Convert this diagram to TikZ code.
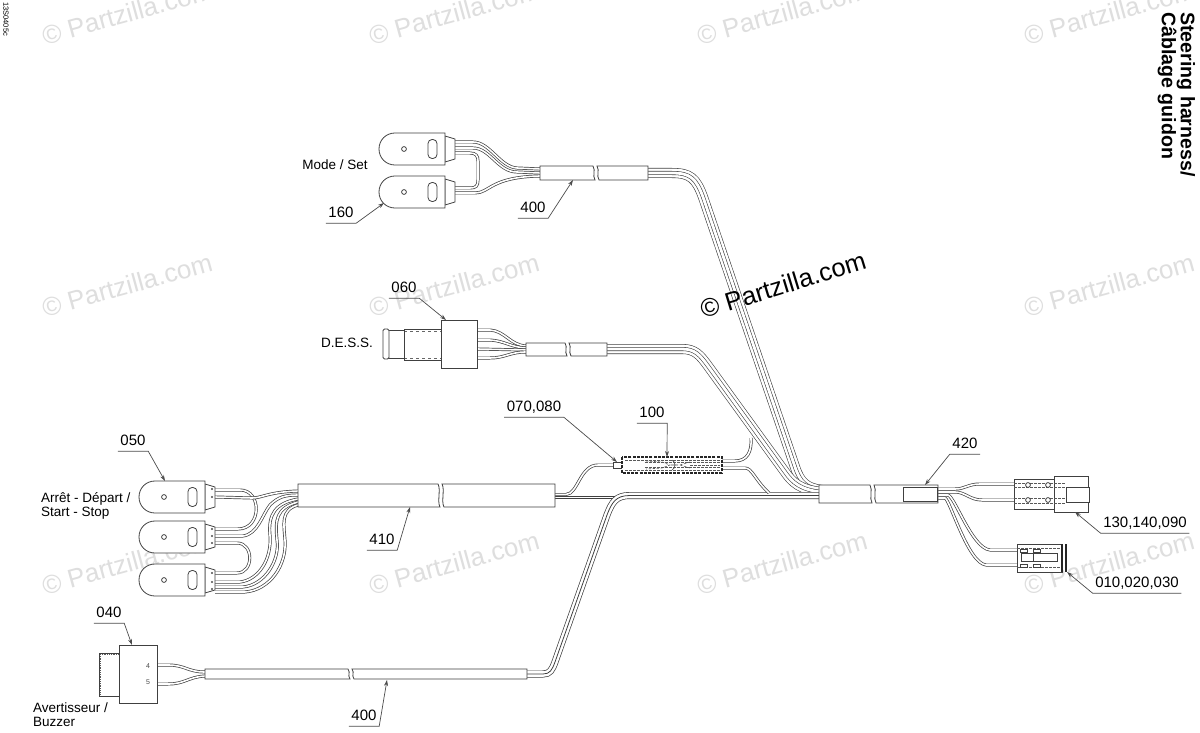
\documentclass[tikz,border=0pt]{standalone}
\usepackage{fontspec}
\setmainfont{Liberation Sans}
\usetikzlibrary{arrows.meta}

\newcommand{\brksleeve}[5]{%
\filldraw[sleeve] (#1,#4) -- (#2-2,#4) .. controls (#2+1,#4+5) and (#2-3,#5-5) .. (#2,#5) -- (#1,#5) -- cycle;
\filldraw[sleeve] (#3,#4) -- (#2+2,#4) .. controls (#2+5,#4+5) and (#2+1,#5-5) .. (#2+4,#5) -- (#3,#5) -- cycle;}

\tikzset{
  part/.style={draw=black!75,fill=white,line width=.8pt},
  sleeve/.style={draw=black!75,fill=white,line width=.8pt},
  hidden/.style={draw=black!65,line width=.6pt,dash pattern=on 2.5pt off 1.5pt},
  wiretwo/.style={draw=black!75,line width=.7pt,double=white,double distance=1.6pt},
  wirethree/.style={preaction={draw=black!75,line width=7pt},preaction={draw=white,line width=5.6pt},
    draw=black!75,line width=.8pt},
  wirefour/.style={preaction={draw=black!75,line width=10pt},preaction={draw=white,line width=8.8pt},
    preaction={draw=black!75,line width=4pt},preaction={draw=white,line width=2.8pt},draw=none},
  partno/.style={font=\fontsize{15}{15}\selectfont,inner xsep=2.5pt,inner ysep=0pt,text height=12pt,text depth=6pt},
  callout/.style={font=\fontsize{13.5}{14}\selectfont,inner sep=0pt,align=left},
  leader/.style={draw=black!70,line width=.7pt,-{Stealth[length=6pt,width=4pt]}},
  wmark/.style={font=\fontsize{26}{26}\selectfont,text=black!13,rotate=15.4,inner sep=0pt},
  paddle/.pic={
    \filldraw[part] (66,-13) -- (76,-10) -- (76,10) -- (66,13) -- cycle;
    \filldraw[part] (66,-16) -- (16,-16) .. controls (7,-16) and (0,-9) .. (0,0)
      .. controls (0,9) and (7,16) .. (16,16) -- (66,16) -- cycle;
    \draw[part] (25,0) circle (2.4);
    \draw[part,rounded corners=4pt] (49,-9.5) rectangle (58,9.5);
  }
}

\begin{document}
\begin{tikzpicture}[x=1pt,y=-1pt]
\useasboundingbox[fill=white] (0,0) rectangle (1200,733);

\foreach \wx/\wy in {127/13,454/13,782/13,1109/13,127/285,454/285,1109/285,127/563,454/563,782/563,1109/563}
  \node[wmark] at (\wx,\wy) {© Partzilla.com};

% wires
\draw[wirefour] (648,173) -- (672,173) .. controls (690,173) and (696,178) .. (703,197) -- (795,467) .. controls (800,482) and (806,488) .. (822,490);
\draw[wirefour] (607,349) -- (682,349) .. controls (695,349) and (700,355) .. (708,366) -- (785,472) .. controls (792,482) and (800,490) .. (822,492);
\draw[wiretwo] (555,497.3) -- (640,497.3);
\draw[wiretwo] (555,494.5) -- (566,494.5) .. controls (578,494) and (580,465) .. (598,465) -- (614,465);
\draw[wirethree] (527,674) -- (543,674) .. controls (550,674) and (552,670) .. (555,662) -- (607,515) .. controls (612,502) and (616,495.5) .. (630,495.5) -- (822,495.5);
\draw[wiretwo] (722,461) -- (735,461) .. controls (747,461) and (752,452) .. (751,438);
\draw[wiretwo] (722,468) -- (745,468) .. controls (752,468) and (755,480) .. (769,493);

\draw[wiretwo] (455,142) -- (473,142) .. controls (490,142) and (500,167) .. (517,168) -- (540,169);
\draw[wiretwo] (455,148) -- (473,148) .. controls (490,148) and (498,172) .. (517,172) -- (540,173);
\draw[wiretwo] (455,153) -- (470,153) .. controls (476,153) and (478,156) .. (478,161) -- (478,180) .. controls (478,186) and (476,188) .. (470,188) -- (455,188);
\draw[wiretwo] (455,193) -- (475,193) .. controls (490,193) and (490,177) .. (540,176);

\draw[wiretwo] (477,330) -- (490,330) .. controls (505,331) and (510,345) .. (526,346);
\draw[wiretwo] (477,340) -- (490,340) .. controls (505,341) and (510,347) .. (526,348);
\draw[wiretwo] (477,349) -- (526,350);
\draw[wiretwo] (477,358) -- (490,358) .. controls (505,358) and (510,352) .. (526,352);

\draw[wiretwo] (215,490) -- (240,490) .. controls (262,490) and (262,529) .. (238,529) -- (215,529);
\draw[wiretwo] (215,497) -- (252,498) .. controls (262,498) and (268,492) .. (298,491);
\draw[wiretwo] (215,536) -- (243,536) .. controls (258,534) and (262,515) .. (270,505) .. controls (278,497) and (285,495) .. (298,495);
\draw[wiretwo] (215,543) -- (237,543) .. controls (254,543) and (254,573) .. (237,573) -- (215,573);
\draw[wiretwo] (215,582) -- (240,582) .. controls (258,580) and (272,560) .. (270,535) .. controls (268,515) and (275,503) .. (298,499);
\draw[wiretwo] (215,587) -- (243,587) .. controls (265,585) and (280,560) .. (277,540) .. controls (275,520) and (276,508) .. (298,502);
\draw[wiretwo] (215,592) -- (245,592) .. controls (270,590) and (287,565) .. (285,540) .. controls (284,525) and (280,510) .. (298,505);

\draw[wiretwo] (157,665) -- (168,665) .. controls (185,665) and (188,672) .. (205,672);
\draw[wiretwo] (157,684) -- (168,684) .. controls (185,684) and (188,677) .. (205,676);

\draw[wiretwo] (938,489) -- (955,489) .. controls (965,489) and (968,484) .. (980,484) -- (1014,484);
\draw[wiretwo] (938,492) -- (955,492) .. controls (965,492) and (970,500) .. (982,500) -- (1014,500);
\draw[wiretwo] (938,495) -- (948,495) .. controls (955,497) and (972,548) .. (990,550) -- (1017,550);
\draw[wiretwo] (938,498) -- (945,498) .. controls (950,500) and (968,563) .. (986,565) -- (1017,565);

% sleeves
\brksleeve{540}{595}{648}{166}{180}
\brksleeve{526}{567}{607}{343}{356}
\brksleeve{298}{440}{555}{484}{507}
\brksleeve{819}{872}{938}{485}{503}
\brksleeve{205}{350}{527}{669}{679}
\draw[part] (903,487) rectangle (937,501);

% mode / set
\pic at (379,149) {paddle};
\pic at (379,192) {paddle};
\node[callout] (modeset) at (335,165) {Mode / Set};

% d.e.s.s.
\filldraw[part] (404,329) rectangle (441,360);
\draw[black!60,dashed,line width=.5pt] (404,331) -- (441,331) (404,358) -- (441,358);
\filldraw[part] (388,330) -- (404,330) -- (404,358) -- (388,358) -- cycle;
\filldraw[part,rounded corners=1.5pt] (383,329) rectangle (389,359);
\filldraw[part] (441,320) rectangle (477,368);
\node[callout] (dess) at (347,343) {D.E.S.S.};

% start / stop
\pic at (139,497) {paddle};
\pic at (139,537) {paddle};
\pic at (139,580) {paddle};
\foreach \py in {489,497,529,536,543,573,582,589}
  \fill[black!70] (212,\py) circle (1.2);
\node[callout,anchor=west] (arret) at (41,499) {Arrêt - Départ /};
\node[callout,anchor=west] (start) at (41,513) {Start - Stop};

% splice
\filldraw[part] (613,462) rectangle (622,468);
\filldraw[draw=black!85,fill=white,line width=1.2pt,dash pattern=on 3pt off 1.2pt] (622,457) rectangle (722,473);
\draw[hidden,line width=.9pt] (625,460) -- (720,460) (625,470) -- (720,470) (645,462.5) -- (720,462.5) (645,467.5) -- (720,467.5) (690,465) -- (720,465);
\draw[hidden] (646,461) -- (662,462) -- (670,465) -- (662,468) -- (646,469);
\draw[black!70,line width=.6pt] (671,465) -- (678,465) (672,460) .. controls (676,462) and (676,468) .. (672,470);
\draw[hidden] (680,465) -- (690,462) (680,465) -- (690,468);

% right connectors
\filldraw[part] (1014,479) rectangle (1054,509);
\filldraw[part] (1054,476) rectangle (1088,512);
\filldraw[part] (1066,487) rectangle (1089,502);
\draw[hidden] (1014,483) -- (1066,483) (1014,487) -- (1066,487) (1014,498) -- (1066,498) (1014,503) -- (1066,503);
\draw[part] (1028,485) circle (2.4) (1048,485) circle (2.4) (1028,500) circle (2.4) (1048,500) circle (2.4);

\filldraw[part] (1017,544) rectangle (1062,572);
\draw[black!85,line width=1.3pt] (1062,544) -- (1062,572) (1066,544) -- (1066,572);
\draw[hidden] (1017,548) -- (1061,548) (1017,567) -- (1061,567);
\draw[part] (1021,553) rectangle (1033,561) (1033,553) rectangle (1057,561);
\draw[part] (1020,549) rectangle (1027,552) (1033,549) rectangle (1040,552) (1020,564) rectangle (1027,567) (1033,564) rectangle (1040,567);

% buzzer
\filldraw[part] (99,653) rectangle (119,696);
\draw[hidden,line width=.8pt,dash pattern=on 1pt off .8pt] (100.5,654) -- (100.5,695) (100,654.5) -- (119,654.5);
\filldraw[part] (119,645) rectangle (157,703);
\node[inner sep=0pt,font=\fontsize{7}{7}\selectfont,text=black!70] (pin4) at (148,666) {4};
\node[inner sep=0pt,font=\fontsize{7}{7}\selectfont,text=black!70] (pin5) at (148,682) {5};
\node[callout,anchor=west] (buzz) at (33,708) {Avertisseur /};
\node[callout,anchor=west] (buzzb) at (33,722) {Buzzer};

% part numbers
\node[partno] (p160) at (341,214) {160};
\node[partno] (p400a) at (533,209) {400};
\node[partno] (p060) at (404,289) {060};
\node[partno] (p050) at (133,442) {050};
\node[partno] (p070) at (534,408) {070,080};
\node[partno] (p100) at (652,414) {100};
\node[partno] (p420) at (965,445) {420};
\node[partno] (p130) at (1145,524) {130,140,090};
\node[partno] (p010) at (1137,584) {010,020,030};
\node[partno] (p410) at (382,541) {410};
\node[partno] (p040) at (109,614) {040};
\node[partno] (p400b) at (364,717) {400};

\coordinate (e160) at (384,203);
\coordinate (e400a) at (573,180);
\coordinate (e060) at (446,320);
\coordinate (e050) at (165,481);
\coordinate (e070) at (617,462);
\coordinate (e100) at (667,457);
\coordinate (e420) at (925,485);
\coordinate (e130) at (1075,512);
\coordinate (e010) at (1067,572);
\coordinate (e410) at (410,507);
\coordinate (e040) at (132,645);
\coordinate (e400b) at (387,680);

\draw[leader] (p160.south west) -- (p160.south east) -- (e160);
\draw[leader] (p400a.south west) -- (p400a.south east) -- (e400a);
\draw[leader] (p060.south west) -- (p060.south east) -- (e060);
\draw[leader] (p050.south west) -- (p050.south east) -- (e050);
\draw[leader] (p070.south west) -- (p070.south east) -- (e070);
\draw[leader] (p100.south west) -- (p100.south east) -- (e100);
\draw[leader] (p420.south east) -- (p420.south west) -- (e420);
\draw[leader] (p130.south east) -- (p130.south west) -- (e130);
\draw[leader] (p010.south east) -- (p010.south west) -- (e010);
\draw[leader] (p410.south west) -- (p410.south east) -- (e410);
\draw[leader] (p040.south west) -- (p040.south east) -- (e040);
\draw[leader] (p400b.south west) -- (p400b.south east) -- (e400b);

% texts
\node[font=\fontsize{19.6}{20}\selectfont\bfseries,rotate=-90,anchor=west,inner sep=0pt] (title) at (1186,12) {Steering harness/};
\node[font=\fontsize{19.6}{20}\selectfont\bfseries,rotate=-90,anchor=west,inner sep=0pt] (titleb) at (1167,12) {Câblage guidon};
\node[font=\fontsize{7.5}{8}\selectfont,rotate=-90,anchor=west,inner sep=0pt] (ref) at (6,2) {13S0405c};
\node[font=\fontsize{25.5}{26}\selectfont,rotate=17,inner sep=0pt] (wmain) at (783,285) {© Partzilla.com};
\end{tikzpicture}
\end{document}
